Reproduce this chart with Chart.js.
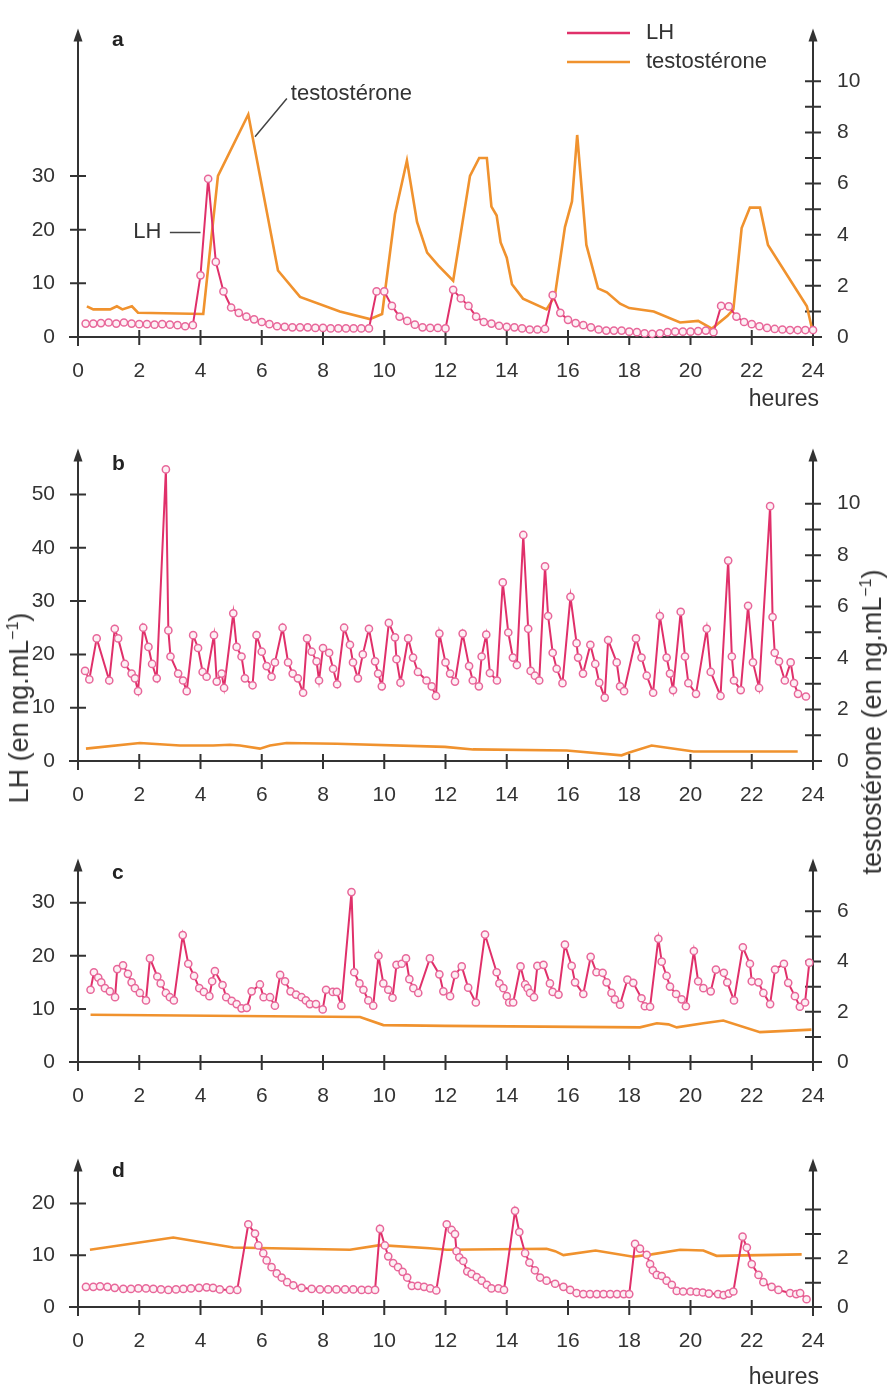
<!DOCTYPE html>
<html><head><meta charset="utf-8">
<script src="https://cdn.jsdelivr.net/npm/chart.js@4.4.1/dist/chart.umd.min.js"></script>
<style>
html,body{margin:0;padding:0;background:#fff;}
#wrap{position:relative;width:887px;height:1390px;overflow:hidden;font-family:'Liberation Sans',Arial,Helvetica,sans-serif;color:#333;}
canvas{position:absolute;left:0;}
.vt{position:absolute;white-space:nowrap;font-size:27px;line-height:30px;transform:translate(-50%,-50%) rotate(-90deg);color:#333;}
.vt sup{font-size:16px;line-height:0;}
</style></head>
<body><div id="wrap">
<canvas id="ca" width="887" height="415" style="top:0px"></canvas>
<canvas id="cb" width="887" height="386" style="top:420px"></canvas>
<canvas id="cc" width="887" height="277" style="top:830px"></canvas>
<canvas id="cd" width="887" height="260" style="top:1130px"></canvas>
<div class="vt" style="left:19px;top:708px">LH (en ng.mL<sup>−1</sup>)</div>
<div class="vt" style="left:872px;top:722px">testostérone (en ng.mL<sup>−1</sup>)</div>
</div>
<script>
// ---------- DATA ----------
const hourTicks = [0,2,4,6,8,10,12,14,16,18,20,22,24];

// Panel a
const lhTimeA = [
 0.25,0.5,0.75,1.0,1.25,1.5,1.75,2.0,2.25,2.5,
 2.75,3.0,3.25,3.5,3.75,4.0,4.25,4.5,4.75,5.0,
 5.25,5.5,5.75,6.0,6.25,6.5,6.75,7.0,7.25,7.5,
 7.75,8.0,8.25,8.5,8.75,9.0,9.25,9.5,9.75,10.0,
 10.25,10.5,10.75,11.0,11.25,11.5,11.75,12.0,12.25,12.5,
 12.75,13.0,13.25,13.5,13.75,14.0,14.25,14.5,14.75,15.0,
 15.25,15.5,15.75,16.0,16.25,16.5,16.75,17.0,17.25,17.5,
 17.75,18.0,18.25,18.5,18.75,19.0,19.25,19.5,19.75,20.0,
 20.25,20.5,20.75,21.0,21.25,21.5,21.75,22.0,22.25,22.5,
 22.75,23.0,23.25,23.5,23.75,24.0];
const lhA = [
 2.5,2.5,2.6,2.7,2.5,2.7,2.5,2.4,2.4,2.3,
 2.4,2.3,2.2,2.0,2.2,11.5,29.5,14,8.5,5.5,
 4.5,3.8,3.3,2.8,2.4,2.0,1.9,1.8,1.8,1.8,
 1.7,1.7,1.6,1.6,1.6,1.6,1.6,1.6,8.5,8.5,
 5.8,3.8,3.0,2.3,1.8,1.7,1.7,1.6,8.8,7.2,
 5.8,3.8,2.8,2.5,2.1,1.9,1.8,1.6,1.4,1.4,
 1.5,7.8,4.5,3.2,2.6,2.2,1.8,1.4,1.2,1.2,
 1.2,1.0,0.9,0.7,0.6,0.7,0.9,1.0,1.0,1.0,
 1.1,1.2,0.9,5.8,5.7,3.8,2.8,2.4,2.0,1.7,
 1.5,1.4,1.3,1.3,1.3,1.3];
const testoTimeA = [0.29,0.5,1.05,1.27,1.45,1.76,1.96,4.09,4.57,5.56,6.53,7.25,8.55,9.53,9.93,
 10.35,10.74,11.07,11.4,11.76,12.25,12.8,13.1,13.35,13.5,13.67,13.8,14.0,14.17,14.53,
 15.3,15.57,15.9,16.13,16.3,16.6,16.98,17.27,17.7,18.0,18.8,19.66,20.25,20.7,21.2,21.4,
 21.67,21.94,22.27,22.53,23.8,24.0];
const testoA = [1.2,1.08,1.08,1.2,1.08,1.2,0.95,0.9,6.3,8.7,2.6,1.57,1.0,0.7,0.9,
 4.8,6.9,4.5,3.3,2.8,2.2,6.3,7.0,7.0,5.1,4.75,3.7,3.1,2.06,1.5,
 1.08,1.6,4.3,5.3,7.9,3.6,1.9,1.75,1.3,1.13,1.0,0.57,0.63,0.33,0.82,1.08,
 4.26,5.06,5.06,3.6,1.2,0.15];

// Panel b
const lhTimeB = [
 0.23,0.37,0.61,1.02,1.2,1.31,1.53,1.75,1.86,1.96,
 2.13,2.3,2.42,2.57,2.87,2.95,3.02,3.27,3.43,3.55,
 3.76,3.92,4.07,4.2,4.44,4.53,4.69,4.77,5.07,5.18,
 5.34,5.45,5.7,5.83,6.0,6.16,6.32,6.43,6.68,6.86,
 7.01,7.18,7.35,7.48,7.63,7.79,7.87,8.0,8.2,8.33,
 8.46,8.69,8.88,8.98,9.14,9.3,9.5,9.7,9.8,9.92,
 10.15,10.35,10.4,10.53,10.78,10.94,11.1,11.38,11.55,11.69,
 11.8,12.0,12.15,12.31,12.56,12.77,12.89,13.09,13.18,13.33,
 13.45,13.68,13.87,14.05,14.2,14.33,14.54,14.7,14.78,14.92,
 15.06,15.25,15.35,15.5,15.63,15.82,16.08,16.28,16.33,16.49,
 16.73,16.89,17.02,17.2,17.31,17.59,17.7,17.83,18.22,18.4,
 18.57,18.78,19.0,19.22,19.33,19.43,19.68,19.82,19.93,20.18,
 20.53,20.66,20.98,21.23,21.35,21.42,21.64,21.88,22.04,22.24,
 22.6,22.68,22.75,22.89,23.08,23.27,23.38,23.51,23.77];
const lhB = [
 16.9,15.3,23.0,15.1,24.8,23.0,18.2,16.4,15.5,13.1,
 25.0,21.4,18.2,15.5,54.7,24.5,19.6,16.4,15.1,13.1,
 23.6,21.2,16.7,15.8,23.6,14.9,16.4,13.7,27.7,21.4,
 19.6,15.5,14.2,23.6,20.5,17.8,15.8,18.5,25.0,18.5,
 16.4,15.5,12.8,23.0,20.5,18.7,15.1,21.2,20.3,17.3,
 14.4,25.0,21.8,18.5,15.5,20.0,24.8,18.7,16.4,14.0,
 25.9,23.2,19.1,14.7,23.0,19.4,16.7,15.1,14.0,12.2,
 23.9,18.5,16.4,14.9,23.9,17.8,15.1,14.0,19.6,23.7,
 16.5,15.1,33.5,24.1,19.4,18.0,42.4,24.8,16.9,16.0,
 15.1,36.5,27.2,20.3,17.3,14.6,30.8,22.1,19.4,16.4,
 21.8,18.2,14.7,11.9,22.7,18.5,14.0,13.1,23.0,19.4,
 16.0,12.8,27.2,19.4,16.4,13.3,28.0,19.6,14.6,12.6,
 24.8,16.7,12.2,37.6,19.6,15.1,13.3,29.1,18.5,13.7,
 47.8,27.0,20.3,18.7,15.1,18.5,14.6,12.6,12.1];
const testoTimeB = [0.26,2.02,3.33,4.41,4.96,5.29,5.94,6.27,6.81,8.45,11.98,12.9,15.96,17.75,18.0,18.73,20.1,23.5];
const testoB = [0.48,0.70,0.60,0.60,0.63,0.60,0.48,0.60,0.70,0.67,0.55,0.45,0.41,0.22,0.33,0.60,0.37,0.37];

// Panel c
const lhTimeC = [
 0.41,0.52,0.66,0.76,0.88,1.04,1.21,1.28,1.47,1.63,
 1.75,1.86,2.02,2.22,2.35,2.59,2.7,2.87,3.0,3.13,
 3.42,3.6,3.79,3.96,4.11,4.29,4.38,4.47,4.72,4.84,
 5.02,5.18,5.34,5.51,5.67,5.94,6.06,6.27,6.43,6.6,
 6.76,6.94,7.12,7.3,7.44,7.57,7.77,7.99,8.1,8.32,
 8.45,8.6,8.93,9.02,9.19,9.32,9.48,9.64,9.81,9.97,
 10.13,10.27,10.4,10.57,10.71,10.82,10.95,11.11,11.49,11.8,
 11.93,12.15,12.31,12.53,12.74,12.99,13.29,13.67,13.76,13.89,
 14.0,14.08,14.21,14.45,14.6,14.68,14.76,14.89,15.0,15.2,
 15.41,15.5,15.69,15.9,16.12,16.23,16.5,16.74,16.93,17.13,
 17.26,17.42,17.53,17.7,17.94,18.13,18.4,18.51,18.68,18.95,
 19.06,19.22,19.33,19.53,19.71,19.85,20.11,20.25,20.42,20.66,
 20.83,21.09,21.2,21.42,21.71,21.94,22.0,22.22,22.38,22.6,
 22.76,23.05,23.19,23.41,23.57,23.74,23.88];
const lhC = [
 13.6,16.9,15.9,15.0,13.9,13.3,12.2,17.5,18.2,16.6,
 15.0,13.9,13.0,11.6,19.5,16.1,14.8,13.0,12.2,11.6,
 23.9,18.5,16.2,13.9,13.2,12.4,15.2,17.1,14.5,12.2,
 11.5,10.9,10.1,10.2,13.3,14.6,12.2,12.2,10.6,16.4,
 15.2,13.3,12.7,12.2,11.6,10.9,10.9,9.9,13.6,13.2,
 13.2,10.6,32.0,16.9,14.8,13.6,11.6,10.6,20.0,14.8,
 13.6,12.1,18.3,18.5,19.5,15.6,13.9,13.0,19.5,16.5,
 13.3,12.4,16.4,18.0,14.0,11.2,24.0,16.9,14.8,13.9,
 12.4,11.2,11.2,18.0,14.6,13.9,13.0,12.2,18.1,18.3,
 14.8,13.2,12.7,22.1,18.1,15.0,12.8,19.8,16.9,16.8,
 15.0,13.0,11.8,10.8,15.5,14.9,12.0,10.5,10.4,23.2,
 18.9,16.2,14.2,12.8,11.8,10.5,20.9,15.2,13.9,13.3,
 17.4,16.8,15.0,11.6,21.6,18.5,15.2,15.0,13.0,10.9,
 17.4,18.5,14.9,12.4,10.4,11.2,18.7];
const testoTimeC = [0.41,9.21,9.97,11.98,18.35,18.9,19.28,19.55,20.42,21.07,22.27,23.95];
const testoC = [1.88,1.79,1.47,1.44,1.38,1.54,1.50,1.38,1.54,1.65,1.19,1.29];

// Panel d
const lhTimeD = [
 0.26,0.5,0.72,0.96,1.2,1.48,1.73,1.97,2.22,2.46,
 2.71,2.95,3.2,3.44,3.69,3.95,4.2,4.41,4.63,4.96,
 5.2,5.56,5.78,5.89,6.05,6.16,6.32,6.49,6.65,6.83,
 7.03,7.3,7.63,7.9,8.17,8.44,8.72,8.99,9.26,9.48,
 9.7,9.86,10.02,10.13,10.29,10.45,10.6,10.75,10.9,11.1,
 11.3,11.5,11.7,12.04,12.2,12.31,12.36,12.45,12.58,12.71,
 12.85,13.02,13.18,13.35,13.5,13.73,13.91,14.27,14.41,14.6,
 14.74,14.92,15.09,15.3,15.58,15.85,16.07,16.28,16.5,16.72,
 16.94,17.16,17.38,17.6,17.82,18.0,18.19,18.35,18.57,18.68,
 18.77,18.9,19.06,19.22,19.39,19.55,19.76,20.0,20.2,20.4,
 20.6,20.9,21.08,21.25,21.4,21.7,21.84,22.0,22.22,22.38,
 22.65,22.87,23.25,23.45,23.58,23.79];
const lhD = [
 3.9,3.9,4.0,3.9,3.7,3.5,3.5,3.6,3.6,3.5,
 3.4,3.3,3.4,3.5,3.6,3.7,3.8,3.7,3.4,3.3,
 3.3,16.0,14.2,11.9,10.4,9.0,7.7,6.5,5.7,4.8,
 4.2,3.7,3.5,3.4,3.4,3.4,3.4,3.4,3.3,3.3,
 3.3,15.1,11.9,9.8,8.5,7.7,6.8,5.7,4.1,4.1,
 3.9,3.6,3.2,16.0,14.9,14.1,10.8,9.6,8.9,6.9,
 6.4,5.8,5.1,4.3,3.6,3.6,3.3,18.6,14.5,10.4,
 8.6,7.1,5.7,5.1,4.5,3.9,3.3,2.7,2.5,2.5,
 2.5,2.5,2.5,2.5,2.5,2.5,12.2,11.3,10.1,8.3,
 7.1,6.2,6.0,5.1,4.3,3.1,3.0,3.0,2.9,2.8,
 2.6,2.5,2.3,2.6,3.0,13.6,11.5,8.3,6.2,4.8,
 3.9,3.3,2.7,2.5,2.7,1.5];
const testoTimeD = [0.39,3.11,5.07,8.88,9.86,11.49,12.04,15.3,15.58,15.85,16.9,18.13,18.73,19.66,20.42,20.85,23.63];
const testoD = [2.35,2.85,2.44,2.35,2.54,2.41,2.35,2.39,2.29,2.13,2.32,2.06,2.16,2.35,2.32,2.10,2.16];

// axis ticks per panel
const lhTicksA = [0,10,20,30],           testoTicksA = [0,1,2,3,4,5,6,7,8,9,10], testoLabelsA = [0,2,4,6,8,10];
const lhTicksB = [0,10,20,30,40,50],     testoTicksB = [0,1,2,3,4,5,6,7,8,9,10], testoLabelsB = [0,2,4,6,8,10];
const lhTicksC = [0,10,20,30],           testoTicksC = [0,1,2,3,4,5,6],          testoLabelsC = [0,2,4,6];
const lhTicksD = [0,10,20],              testoTicksD = [0,1,2,3,4],              testoLabelsD = [0,2];

// ---------- STYLE ----------
const FONT = "'Liberation Sans', Arial, Helvetica, sans-serif";
const AX = '#333333';
const LH_LINE = '#e0306a';
const LH_PT = '#e8679a';
const LH_FILL = '#fdf0f5';
const T_COL = '#f0922e';

function pts(t, v){ return t.map((x,i)=>({x:x, y:v[i]})); }

function deco(cfg){
  return {
    id: 'deco',
    beforeDatasetsDraw(chart){
      const {ctx, chartArea:a, scales} = chart;
      const xs = scales.x, yl = scales.yL, yr = scales.yR;
      const y0 = yl.getPixelForValue(0);
      const xl = xs.getPixelForValue(0), xr = xs.getPixelForValue(24);
      ctx.save();
      ctx.strokeStyle = AX; ctx.fillStyle = AX; ctx.lineWidth = 2;
      ctx.beginPath();
      ctx.moveTo(xl-9, y0); ctx.lineTo(xr+9, y0);
      ctx.moveTo(xl, y0+9); ctx.lineTo(xl, a.top+10);
      ctx.moveTo(xr, y0+9); ctx.lineTo(xr, a.top+10);
      xs.ticks.forEach(t=>{ if(t.value===0) return; const x = xs.getPixelForValue(t.value); ctx.moveTo(x, y0-7); ctx.lineTo(x, y0+8); });
      yl.ticks.forEach(t=>{ if(t.value===0) return; const y = yl.getPixelForValue(t.value); ctx.moveTo(xl-8, y); ctx.lineTo(xl+8, y); });
      yr.ticks.forEach(t=>{ if(t.value===0) return; const y = yr.getPixelForValue(t.value); ctx.moveTo(xr-8, y); ctx.lineTo(xr+8, y); });
      ctx.stroke();
      [xl, xr].forEach(x=>{ ctx.beginPath(); ctx.moveTo(x, a.top); ctx.lineTo(x-4.5, a.top+13); ctx.lineTo(x+4.5, a.top+13); ctx.closePath(); ctx.fill(); });
      ctx.restore();
    },
    afterDraw(chart){
      const {ctx, chartArea:a, scales} = chart;
      const xs = scales.x, yl = scales.yL, yr = scales.yR;
      ctx.save();
      ctx.fillStyle = '#222';
      ctx.font = 'bold 21px ' + FONT;
      ctx.textBaseline = 'middle'; ctx.textAlign = 'left';
      ctx.fillText(cfg.letter, a.left + 34, a.top + cfg.letterDy);
      ctx.fillStyle = AX;
      if (cfg.heures) {
        ctx.font = '23px ' + FONT;
        ctx.textAlign = 'right';
        ctx.fillText('heures', a.right + 6, a.bottom + cfg.heures);
      }
      ctx.font = '22px ' + FONT;
      if (cfg.legend) {
        ctx.lineWidth = 2.5;
        ctx.strokeStyle = LH_LINE;
        ctx.beginPath(); ctx.moveTo(567, 33); ctx.lineTo(630, 33); ctx.stroke();
        ctx.strokeStyle = T_COL;
        ctx.beginPath(); ctx.moveTo(567, 62); ctx.lineTo(630, 62); ctx.stroke();
        ctx.textAlign = 'left';
        ctx.fillText('LH', 646, 33);
        ctx.fillText('testostérone', 646, 62);
        // annotations
        ctx.strokeStyle = '#444'; ctx.lineWidth = 1.5;
        ctx.beginPath();
        ctx.moveTo(xs.getPixelForValue(6.82), yr.getPixelForValue(9.33));
        ctx.lineTo(xs.getPixelForValue(5.78), yr.getPixelForValue(7.83));
        ctx.moveTo(xs.getPixelForValue(3.0), yl.getPixelForValue(19.5));
        ctx.lineTo(xs.getPixelForValue(4.0), yl.getPixelForValue(19.5));
        ctx.stroke();
        ctx.fillText('testostérone', xs.getPixelForValue(6.95), yr.getPixelForValue(9.51));
        ctx.textAlign = 'right';
        ctx.fillText('LH', xs.getPixelForValue(2.72), yl.getPixelForValue(19.6));
      }
      ctx.restore();
    }
  };
}

function makePanel(id, cfg){
  const tickFont = {family: FONT, size: 21};
  return new Chart(document.getElementById(id), {
    type: 'line',
    data: { datasets: [
      { label: 'LH', data: pts(cfg.lhT, cfg.lhV), yAxisID: 'yL',
        borderColor: LH_LINE, borderWidth: 2, tension: 0,
        pointRadius: 3.6, pointBorderWidth: 1.5, pointBorderColor: LH_PT, pointBackgroundColor: LH_FILL, clip: false },
      { label: 'testostérone', data: pts(cfg.tT, cfg.tV), yAxisID: 'yR',
        borderColor: T_COL, borderWidth: 2.6, tension: 0, pointRadius: 0, clip: false }
    ]},
    options: {
      responsive: false, animation: false, events: [],
      layout: { padding: { top: 15, left: 0, right: 0, bottom: 0 } },
      plugins: { legend: { display: false }, tooltip: { enabled: false } },
      scales: {
        x: { type: 'linear', min: 0, max: 24,
          afterBuildTicks: s => { s.ticks = hourTicks.map(v=>({value:v})); },
          afterFit: s => { s.height = cfg.xH; },
          grid: { display: false }, border: { display: false },
          ticks: { padding: 14, font: tickFont, color: AX, autoSkip: false, maxRotation: 0 } },
        yL: { type: 'linear', position: 'left', min: 0, max: cfg.lMax,
          afterBuildTicks: s => { s.ticks = cfg.lTicks.map(v=>({value:v})); },
          afterFit: s => { s.width = 78; },
          grid: { display: false }, border: { display: false },
          ticks: { padding: 15, font: tickFont, color: AX } },
        yR: { type: 'linear', position: 'right', min: 0, max: cfg.rMax,
          afterBuildTicks: s => { s.ticks = cfg.rTicks.map(v=>({value:v})); },
          afterFit: s => { s.width = 74; },
          grid: { display: false }, border: { display: false },
          ticks: { padding: 16, font: tickFont, color: AX,
            callback: v => cfg.rLabels.includes(v) ? String(v) : '' } }
      }
    },
    plugins: [deco(cfg)]
  });
}

makePanel('ca', { letter:'a', letterDy:12, lhT:lhTimeA, lhV:lhA, tT:testoTimeA, tV:testoA,
  lMax:57.5, rMax:12.06, lTicks:lhTicksA, rTicks:testoTicksA, rLabels:testoLabelsA, xH:78, heures:63, legend:true });
makePanel('cb', { letter:'b', letterDy:16, lhT:lhTimeB, lhV:lhB, tT:testoTimeB, tV:testoB,
  lMax:58.6, rMax:12.14, lTicks:lhTicksB, rTicks:testoTicksB, rLabels:testoLabelsB, xH:45 });
makePanel('cc', { letter:'c', letterDy:15, lhT:lhTimeC, lhV:lhC, tT:testoTimeC, tV:testoC,
  lMax:38.3, rMax:8.10, lTicks:lhTicksC, rTicks:testoTicksC, rLabels:testoLabelsC, xH:45 });
makePanel('cd', { letter:'d', letterDy:13, lhT:lhTimeD, lhV:lhD, tT:testoTimeD, tV:testoD,
  lMax:28.7, rMax:6.09, lTicks:lhTicksD, rTicks:testoTicksD, rLabels:testoLabelsD, xH:83, heures:71 });
</script>
</body></html>
